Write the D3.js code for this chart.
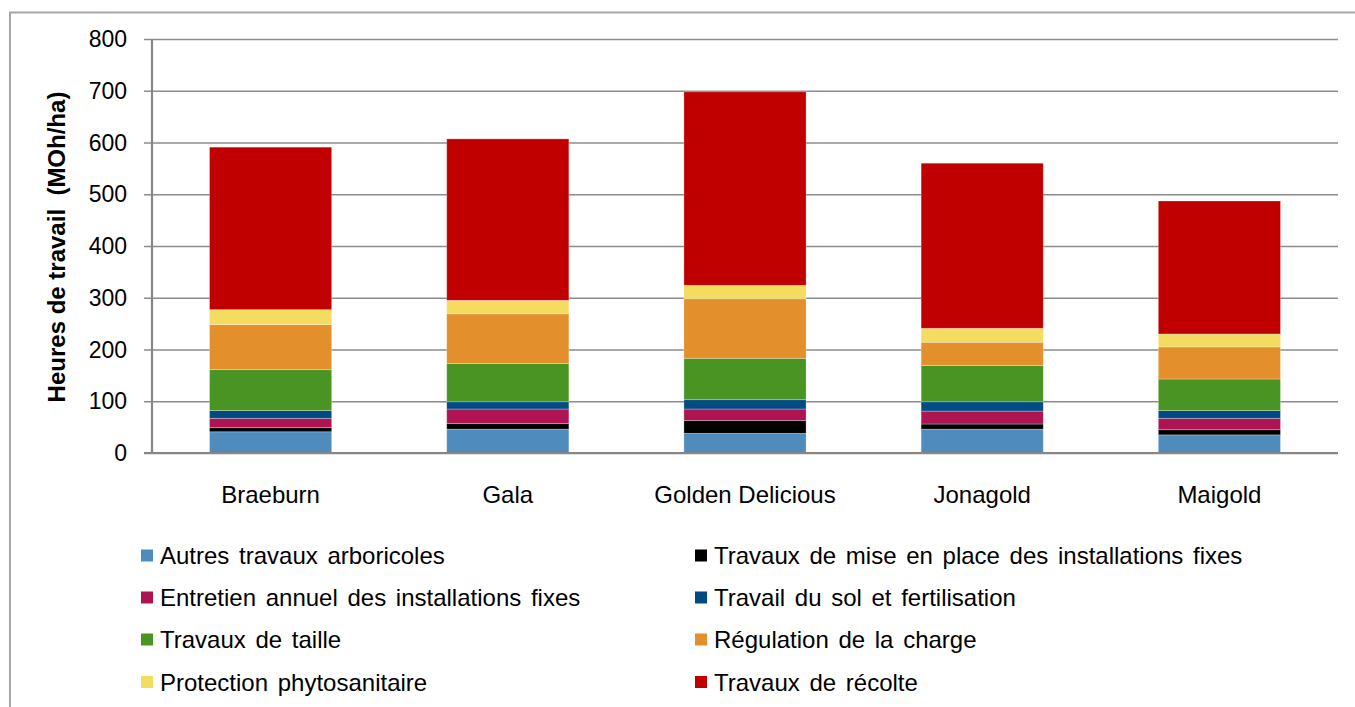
<!DOCTYPE html>
<html>
<head>
<meta charset="utf-8">
<script src="https://cdn.jsdelivr.net/npm/d3@7"></script>
<style>
  html, body { margin: 0; padding: 0; background: #fff; }
  svg text { font-family: "Liberation Sans", Arial, sans-serif; fill: #000; }
</style>
</head>
<body>
<svg id="chart" width="1355" height="707"></svg>
<script>
// ---- data ----
const categories = ["Braeburn", "Gala", "Golden Delicious", "Jonagold", "Maigold"];
const seriesNames = [
  "Autres travaux arboricoles",
  "Travaux de mise en place des installations fixes",
  "Entretien annuel des installations fixes",
  "Travail du sol et fertilisation",
  "Travaux de taille",
  "Régulation de la charge",
  "Protection phytosanitaire",
  "Travaux de récolte"
];
const autres     = [41, 46, 38, 46, 35];
const miseEnPlace= [8, 11, 25, 10, 10];
const entretien  = [18, 28, 22, 25, 22];
const sol        = [15, 14, 18, 18, 15];
const taille     = [79, 74, 80, 70, 61];
const regulation = [87, 96, 115, 45, 62];
const protection = [29, 26, 26, 27, 25];
const recolte    = [314, 312, 374, 319, 257];
const yTicks = [0, 100, 200, 300, 400, 500, 600, 700, 800];
const colors = ["#4F8BBD", "#000000", "#AD1451", "#004B84", "#4A9424", "#E38F2B", "#F3DC5F", "#C00000"];
const seriesValues = [autres, miseEnPlace, entretien, sol, taille, regulation, protection, recolte];

// ---- build table ----
const table = categories.map((c, i) => {
  const row = { cat: c };
  seriesNames.forEach((s, j) => row[s] = seriesValues[j][i]);
  return row;
});
const stacked = d3.stack().keys(seriesNames)(table);

const svg = d3.select("#chart");

// outer frame
svg.append("rect").attr("x", 10).attr("y", 12.5).attr("width", 1360).attr("height", 720)
  .attr("fill", "none").attr("stroke", "#a6a6a6").attr("stroke-width", 2);

const x = d3.scaleBand().domain(categories).range([152, 1338]).paddingInner(0.485).paddingOuter(0.2425);
const y = d3.scaleLinear().domain([0, 800]).range([453, 39]);

// gridlines
const yAxis = d3.axisLeft(y).tickValues(yTicks).tickSize(-(1338 - 144)).tickPadding(0).tickFormat("");
const gGrid = svg.append("g").attr("transform", "translate(144,0)").call(yAxis);
gGrid.select(".domain").remove();
gGrid.selectAll(".tick line").attr("stroke", "#8c8c8c").attr("stroke-width", 1.5);

// tick labels
svg.append("g").selectAll("text").data(yTicks).join("text")
  .attr("x", 127).attr("y", d => y(d) + 8)
  .attr("text-anchor", "end").attr("font-size", 23).text(d => d);

// bars
svg.append("g").selectAll("g").data(stacked).join("g")
  .attr("fill", (d, i) => colors[i])
  .selectAll("rect").data(d => d).join("rect")
  .attr("x", d => x(d.data.cat))
  .attr("width", x.bandwidth())
  .attr("y", d => y(d[1]))
  .attr("height", d => y(d[0]) - y(d[1]))
  .attr("stroke", "rgba(255,255,255,0.35)").attr("stroke-width", 0.8);

// axes lines
svg.append("line").attr("x1", 152).attr("x2", 152).attr("y1", 39).attr("y2", 454)
  .attr("stroke", "#868686").attr("stroke-width", 2.2);
svg.append("line").attr("x1", 144).attr("x2", 1338).attr("y1", 453).attr("y2", 453)
  .attr("stroke", "#868686").attr("stroke-width", 2.2);

// x labels
svg.append("g").selectAll("text").data(categories).join("text")
  .attr("x", d => x(d) + x.bandwidth() / 2).attr("y", 503)
  .attr("text-anchor", "middle").attr("font-size", 24).text(d => d);

// y title
svg.append("text")
  .attr("transform", "translate(65,247) rotate(-90)")
  .attr("text-anchor", "middle").attr("font-size", 24).attr("font-weight", "bold")
  .style("white-space", "pre")
  .text("Heures de travail  (MOh/ha)");

// legend
const legendPos = seriesNames.map((s, i) => ({
  name: s, color: colors[i],
  x: i % 2 === 0 ? 141 : 695,
  y: [555.5, 597.5, 639.5, 682][Math.floor(i / 2)]
}));
const lg = svg.append("g").selectAll("g").data(legendPos).join("g")
  .attr("transform", d => `translate(${d.x},${d.y})`);
lg.append("rect").attr("x", 0).attr("y", -6).attr("width", 12).attr("height", 12).attr("fill", d => d.color);
lg.append("text").attr("x", 19).attr("y", 8.5).attr("font-size", 24).attr("word-spacing", 3).text(d => d.name);
</script>
</body>
</html>
